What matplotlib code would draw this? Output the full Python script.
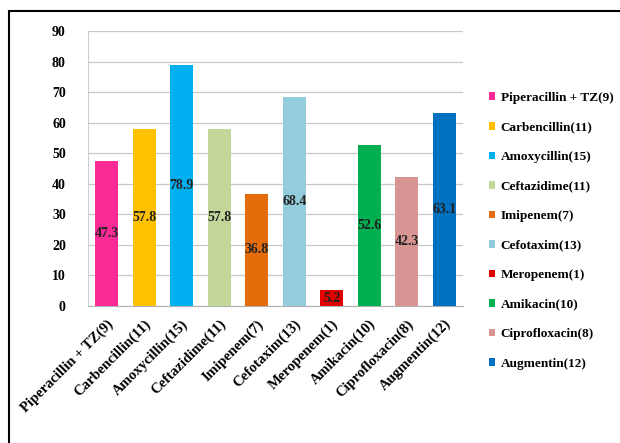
import matplotlib
matplotlib.use("Agg")
import matplotlib.pyplot as plt
from matplotlib.patches import Rectangle, Patch

# Datos
antibioticos = ["Piperacillin + TZ(9)", "Carbencillin(11)", "Amoxycillin(15)", "Ceftazidime(11)",
                "Imipenem(7)", "Cefotaxim(13)", "Meropenem(1)", "Amikacin(10)",
                "Ciprofloxacin(8)", "Augmentin(12)"]
valores = [47.3, 57.8, 78.9, 57.8, 36.8, 68.4, 5.2, 52.6, 42.3, 63.1]
colores = ["#FA2A96", "#FFC000", "#00B0F0", "#C4D79B", "#E46C0A",
           "#93CDDD", "#E00000", "#00B050", "#D99594", "#0070C0"]

plt.rcParams['font.family'] = ['Liberation Serif', 'DejaVu Serif']
plt.rcParams['font.weight'] = 'bold'

fig = plt.figure(figsize=(6.2, 4.43), dpi=100)
ax = fig.add_axes([88 / 620, 1 - 306 / 443, 375 / 620, 275 / 443])

x = range(len(antibioticos))
ax.bar(x, valores, width=0.62, color=colores, zorder=3)

# Etiquetas de valor en el centro de cada barra
for i, v in enumerate(valores):
    ax.text(i, v / 2, f"{v}", ha='center', va='center', fontsize=10,
            fontweight='bold', color='#222222', zorder=4)

ax.set_xlim(-0.5, 9.5)
ax.set_ylim(0, 90)
ax.set_yticks(range(0, 91, 10))
ax.yaxis.grid(True, color='#C8C8C8', linewidth=0.9, zorder=0)
ax.set_xticks(list(x))
ax.set_xticklabels(antibioticos, rotation=45, ha='right', rotation_mode='anchor',
                   fontsize=10.5, fontweight='bold')
for lbl in ax.get_yticklabels():
    lbl.set_fontsize(10)
    lbl.set_fontweight('bold')
ax.tick_params(axis='x', length=0, pad=8)
ax.tick_params(axis='y', length=0, pad=16)
for s in ['top', 'right']:
    ax.spines[s].set_visible(False)
ax.spines['left'].set_color('#D0D0D0')
ax.spines['bottom'].set_color('#B0B0B0')

# Leyenda
handles = [Patch(facecolor=c) for c in colores]
fig.legend(handles, antibioticos, loc='upper left', bbox_to_anchor=(477 / 620, 1 - 80 / 443),
           frameon=False, handlelength=0.5, handleheight=0.5,
           handletextpad=0.4, labelspacing=1.33, prop={'weight': 'bold', 'size': 9.5})

# Marco exterior
fig.patches.append(Rectangle((9 / 620, -0.1), 1.2, 1 - 11 / 443 + 0.1, transform=fig.transFigure,
                             fill=False, edgecolor='black', linewidth=1.5))

fig.savefig("out.png", dpi=100)
